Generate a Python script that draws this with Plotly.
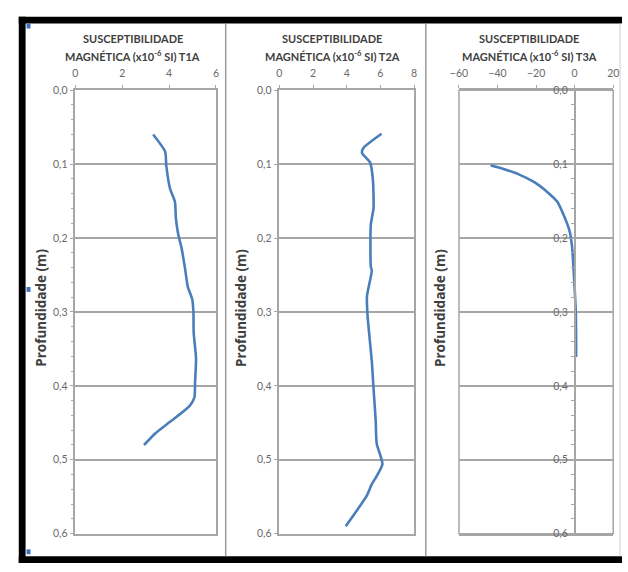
import plotly.graph_objects as go

W, H = 628, 572

# ---- data ----
t1a_depth = [0.060, 0.083, 0.102, 0.133, 0.151, 0.173, 0.195, 0.213, 0.239, 0.266, 0.283, 0.301, 0.328, 0.363, 0.394, 0.416, 0.427, 0.447, 0.464, 0.480]
t1a_sus = [3.32, 3.83, 3.88, 4.04, 4.25, 4.29, 4.39, 4.53, 4.67, 4.80, 4.99, 5.04, 5.05, 5.15, 5.11, 5.08, 4.88, 4.11, 3.42, 2.93]

t2a_depth = [0.059, 0.078, 0.085, 0.098, 0.120, 0.160, 0.182, 0.239, 0.244, 0.279, 0.306, 0.367, 0.403, 0.447, 0.478, 0.506, 0.522, 0.533, 0.548, 0.568, 0.590]
t2a_sus = [6.07, 5.00, 4.91, 5.39, 5.55, 5.59, 5.43, 5.43, 5.49, 5.20, 5.24, 5.49, 5.59, 5.72, 5.78, 6.12, 5.78, 5.49, 5.20, 4.62, 3.94]

t3a_depth = [0.1016, 0.106, 0.1135, 0.1245, 0.138, 0.151, 0.169, 0.191, 0.213, 0.257, 0.301, 0.345, 0.361]
t3a_sus = [-43.6, -37.7, -29.3, -20.9, -14.1, -9.0, -5.7, -2.6, -1.3, -0.25, 0.6, 0.76, 0.76]

title_line1 = "SUSCEPTIBILIDADE"
title_line2 = ["MAGNÉTICA (x10<sup>-6</sup> SI) T1A",
               "MAGNÉTICA (x10<sup>-6</sup> SI) T2A",
               "MAGNÉTICA (x10<sup>-6</sup> SI) T3A"]
y_title = "Profundidade (m)"
x_ranges = [[0, 6], [0, 8], [-60, 20]]
x_dticks = [2, 2, 20]

# ---- layout helpers (pixels -> paper) ----
def px(x):
    return x / W

def py(y):
    return 1 - y / H

x_dom_px = [(68, 212), (277, 415), (461, 619)]
y_dom = [py(539), py(86)]
title_cx = [127, 331, 533]
ytitle_x = [32, 237, 441]

GRAY = "#a6a6a6"
TXT = "#6a6a6a"
DARK = "#404040"
BLUE = "#4a7ebb"

fig = go.Figure()
series = [(t1a_sus, t1a_depth), (t2a_sus, t2a_depth), (t3a_sus, t3a_depth)]
for i, (xs, ys) in enumerate(series):
    k = "" if i == 0 else str(i + 1)
    fig.add_trace(go.Scatter(x=xs, y=ys, mode="lines", xaxis="x" + k, yaxis="y" + k,
                             line=dict(color=BLUE, width=2.6, shape="spline", smoothing=0.6),
                             showlegend=False))

layout = dict(width=W, height=H, margin=dict(l=0, r=0, t=0, b=0),
              paper_bgcolor="white", plot_bgcolor="white", separators=",.",
              font=dict(family="Lato", size=10, color=TXT), showlegend=False)

for i in range(3):
    k = "" if i == 0 else str(i + 1)
    d = [px(x_dom_px[i][0]), px(x_dom_px[i][1])]
    layout["xaxis" + k] = dict(domain=d, range=x_ranges[i], dtick=x_dticks[i], side="top",
                               anchor="y" + k, showgrid=False, zeroline=(i == 2),
                               zerolinecolor=GRAY, zerolinewidth=1.5,
                               showline=True, linecolor=GRAY, linewidth=1.5, mirror=True,
                               ticks="outside", ticklen=3, tickcolor=GRAY,
                               ticklabelstandoff=4,
                               tickfont=dict(size=10.5, color=TXT))
    yax = dict(domain=y_dom, range=[0.6, 0], dtick=0.1, tickformat=".1f",
               showgrid=True, gridcolor=GRAY, gridwidth=1.5, zeroline=False,
               showline=True, linecolor=GRAY, linewidth=1.5,
               ticks="outside", ticklen=4, tickcolor=GRAY,
               tickfont=dict(size=10.5, color=TXT))
    if i != 1:
        yax["minor"] = dict(dtick=0.02, ticks="outside", ticklen=3, tickcolor=GRAY, showgrid=False)
    if i == 2:
        pos = d[0] + (0 - x_ranges[2][0]) / (x_ranges[2][1] - x_ranges[2][0]) * (d[1] - d[0])
        yax.update(anchor="free", position=pos, mirror=False)
    else:
        yax.update(anchor="x" + k, mirror=True)
    layout["yaxis" + k] = yax

fig.update_layout(**layout)

shapes = []
# panel 3 frame
shapes.append(dict(type="rect", xref="x3 domain", yref="y3 domain", x0=0, x1=1, y0=0, y1=1,
                   line=dict(color=GRAY, width=1.5), layer="below"))
# black outer border
for (x0, y0, x1, y1) in [(10, 11, 628, 18), (10, 11, 17, 569), (10, 562, 628, 569)]:
    shapes.append(dict(type="rect", xref="paper", yref="paper", x0=px(x0), x1=px(x1),
                       y0=py(y1), y1=py(y0), fillcolor="black", line=dict(width=0)))
# panel separators
for xs in [222, 427]:
    shapes.append(dict(type="line", xref="paper", yref="paper", x0=px(xs), x1=px(xs),
                       y0=py(562), y1=py(18), line=dict(color="#9a9a9a", width=1.5)))
shapes.append(dict(type="line", xref="paper", yref="paper", x0=px(626), x1=px(626),
                   y0=py(562), y1=py(18), line=dict(color="#d0d0d0", width=1)))
# selection handles
for yy in [18, 287, 555]:
    shapes.append(dict(type="rect", xref="paper", yref="paper", x0=px(18), x1=px(22),
                       y0=py(yy + 5), y1=py(yy), fillcolor="#3a6fc4", line=dict(width=0)))
fig.update_layout(shapes=shapes)

ann = []
for i in range(3):
    ann.append(dict(text="<b>" + title_line1 + "</b>", xref="paper", yref="paper",
                    x=px(title_cx[i]), y=py(33), xanchor="center", yanchor="middle",
                    showarrow=False, font=dict(family="Lato", size=11, color=DARK)))
    ann.append(dict(text="<b>" + title_line2[i] + "</b>", xref="paper", yref="paper",
                    x=px(title_cx[i]), y=py(51), xanchor="center", yanchor="middle",
                    showarrow=False, font=dict(family="Lato", size=11, color=DARK)))
    ann.append(dict(text="<b>" + y_title + "</b>", xref="paper", yref="paper",
                    x=px(ytitle_x[i]), y=py(308), xanchor="center", yanchor="middle",
                    showarrow=False, textangle=-90,
                    font=dict(family="Open Sans", size=13.5, color=DARK)))
fig.update_layout(annotations=ann)

fig.write_html("out.html")
